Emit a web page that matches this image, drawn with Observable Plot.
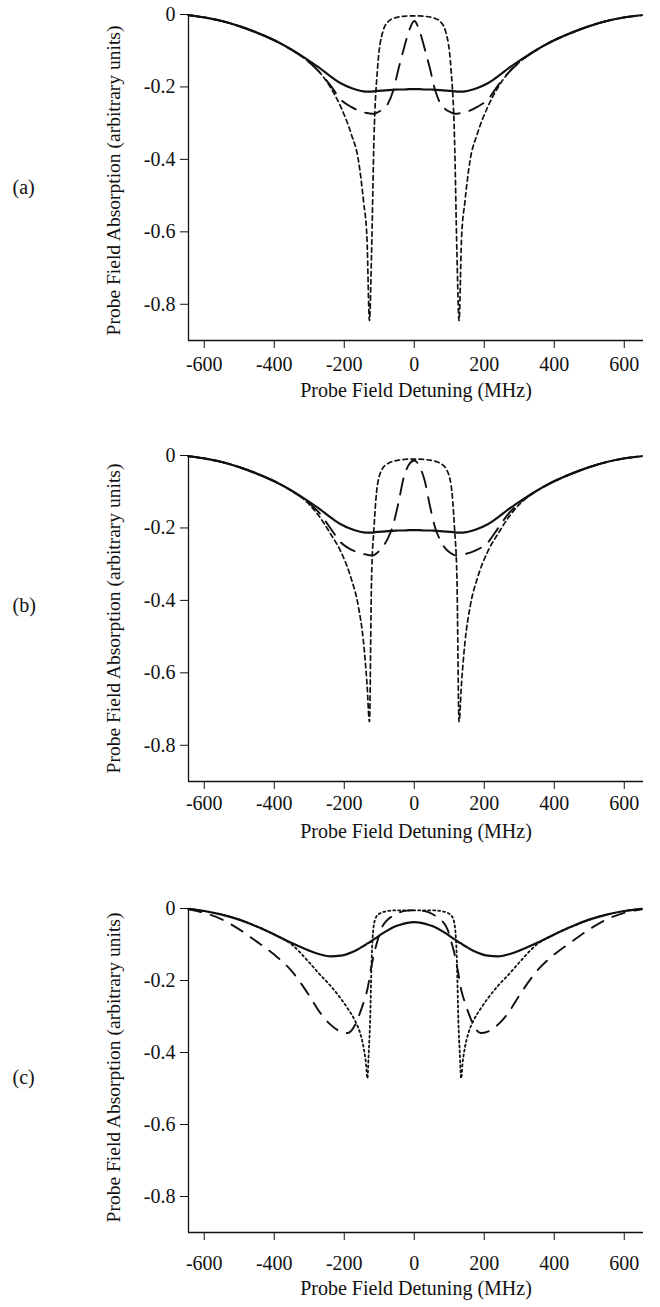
<!DOCTYPE html>
<html><head><meta charset="utf-8">
<script src="https://cdn.jsdelivr.net/npm/d3@7"></script>
<script src="https://cdn.jsdelivr.net/npm/@observablehq/plot@0.6"></script>
<style>
body{margin:0;background:#fff;}
#chart svg{display:block;}
</style>
</head><body><div id="chart"></div>
<script>
// ---- labels ----
const panelLabels = ["(a)", "(b)", "(c)"];
const xTitle = "Probe Field Detuning (MHz)";
const yTitle = "Probe Field Absorption (arbitrary units)";
const xTicks = [-600, -400, -200, 0, 200, 400, 600];
const yTicks = [0, -0.2, -0.4, -0.6, -0.8];

// ---- detuning grids (MHz) ----
const xAB = [-645,-600,-550,-500,-450,-400,-350,-300,-270,-240,-210,-180,-160,-145,-135,-128,-122,-115,-105,-90,-75,-60,-45,-30,-15,0,
  15,30,45,60,75,90,105,115,122,128,135,145,160,180,210,240,270,300,350,400,450,500,550,600,650];
const xC = [-645,-600,-550,-500,-450,-400,-350,-300,-270,-240,-210,-190,-170,-155,-145,-138,-134,-130,-126,-122,-116,-108,-95,-80,-60,-40,-20,0,
  20,40,60,80,95,108,116,122,126,130,134,138,145,155,170,190,210,240,270,300,350,400,450,500,550,600,650];

// ---- panel (a) ----
const aSolid = [-0.002,-0.008,-0.018,-0.032,-0.050,-0.071,-0.097,-0.128,-0.148,-0.170,-0.190,-0.203,-0.209,-0.212,-0.213,-0.213,-0.213,-0.212,-0.211,-0.210,-0.209,-0.208,-0.207,-0.207,-0.206,-0.206,
  -0.206,-0.207,-0.207,-0.208,-0.209,-0.210,-0.211,-0.212,-0.213,-0.213,-0.213,-0.212,-0.209,-0.203,-0.190,-0.170,-0.148,-0.128,-0.097,-0.071,-0.050,-0.032,-0.018,-0.008,-0.002];
const aLong = [-0.002,-0.008,-0.018,-0.032,-0.050,-0.071,-0.098,-0.132,-0.160,-0.195,-0.235,-0.255,-0.265,-0.270,-0.272,-0.273,-0.274,-0.274,-0.270,-0.262,-0.246,-0.210,-0.150,-0.095,-0.045,-0.018,
  -0.045,-0.095,-0.150,-0.210,-0.246,-0.262,-0.270,-0.274,-0.274,-0.273,-0.272,-0.270,-0.265,-0.255,-0.235,-0.195,-0.160,-0.132,-0.098,-0.071,-0.050,-0.032,-0.018,-0.008,-0.002];
const aShort = [-0.002,-0.008,-0.018,-0.032,-0.050,-0.071,-0.098,-0.132,-0.160,-0.200,-0.255,-0.330,-0.400,-0.515,-0.620,-0.845,-0.660,-0.340,-0.150,-0.048,-0.020,-0.011,-0.007,-0.005,-0.004,-0.004,
  -0.004,-0.005,-0.007,-0.011,-0.020,-0.048,-0.150,-0.340,-0.660,-0.845,-0.620,-0.515,-0.400,-0.330,-0.255,-0.200,-0.160,-0.132,-0.098,-0.071,-0.050,-0.032,-0.018,-0.008,-0.002];

// ---- panel (b) ----
const bSolid = [-0.002,-0.008,-0.018,-0.032,-0.050,-0.071,-0.097,-0.128,-0.148,-0.170,-0.190,-0.203,-0.209,-0.212,-0.213,-0.213,-0.213,-0.212,-0.211,-0.210,-0.209,-0.208,-0.207,-0.207,-0.206,-0.206,
  -0.206,-0.207,-0.207,-0.208,-0.209,-0.210,-0.211,-0.212,-0.213,-0.213,-0.213,-0.212,-0.209,-0.203,-0.190,-0.170,-0.148,-0.128,-0.097,-0.071,-0.050,-0.032,-0.018,-0.008,-0.002];
const bLong = [-0.002,-0.008,-0.018,-0.032,-0.050,-0.071,-0.098,-0.132,-0.160,-0.200,-0.240,-0.260,-0.268,-0.272,-0.274,-0.275,-0.276,-0.275,-0.268,-0.252,-0.228,-0.190,-0.130,-0.060,-0.025,-0.014,
  -0.030,-0.070,-0.140,-0.200,-0.235,-0.258,-0.270,-0.275,-0.276,-0.275,-0.274,-0.272,-0.268,-0.260,-0.240,-0.200,-0.160,-0.132,-0.098,-0.071,-0.050,-0.032,-0.018,-0.008,-0.002];
const bShort = [-0.002,-0.008,-0.018,-0.032,-0.050,-0.071,-0.098,-0.135,-0.170,-0.215,-0.265,-0.340,-0.415,-0.515,-0.630,-0.735,-0.340,-0.200,-0.080,-0.035,-0.022,-0.016,-0.013,-0.011,-0.010,-0.010,
  -0.010,-0.011,-0.013,-0.016,-0.022,-0.035,-0.080,-0.200,-0.340,-0.735,-0.630,-0.515,-0.415,-0.340,-0.265,-0.215,-0.170,-0.135,-0.098,-0.071,-0.050,-0.032,-0.018,-0.008,-0.002];

// ---- panel (c) ----
const cSolid = [-0.001,-0.007,-0.017,-0.031,-0.050,-0.072,-0.096,-0.117,-0.127,-0.133,-0.131,-0.126,-0.118,-0.110,-0.104,-0.100,-0.097,-0.095,-0.093,-0.090,-0.086,-0.081,-0.072,-0.063,-0.052,-0.045,-0.040,-0.038,
  -0.040,-0.045,-0.052,-0.063,-0.072,-0.081,-0.086,-0.090,-0.093,-0.095,-0.097,-0.100,-0.104,-0.110,-0.118,-0.126,-0.131,-0.133,-0.127,-0.117,-0.096,-0.072,-0.050,-0.031,-0.017,-0.007,-0.001];
const cLong = [-0.002,-0.012,-0.030,-0.058,-0.092,-0.128,-0.174,-0.242,-0.288,-0.322,-0.342,-0.346,-0.325,-0.290,-0.262,-0.240,-0.225,-0.205,-0.180,-0.160,-0.130,-0.100,-0.058,-0.035,-0.020,-0.010,-0.006,-0.005,
  -0.006,-0.010,-0.020,-0.035,-0.058,-0.100,-0.130,-0.160,-0.180,-0.205,-0.225,-0.240,-0.262,-0.290,-0.325,-0.346,-0.342,-0.322,-0.288,-0.242,-0.174,-0.128,-0.092,-0.058,-0.030,-0.012,-0.002];
const cDot = [-0.001,-0.007,-0.017,-0.031,-0.050,-0.072,-0.100,-0.150,-0.183,-0.214,-0.250,-0.278,-0.310,-0.345,-0.385,-0.430,-0.472,-0.400,-0.310,-0.150,-0.050,-0.022,-0.012,-0.008,-0.005,-0.005,-0.005,-0.005,
  -0.005,-0.005,-0.005,-0.008,-0.012,-0.022,-0.050,-0.150,-0.310,-0.400,-0.472,-0.430,-0.385,-0.345,-0.310,-0.278,-0.250,-0.214,-0.183,-0.150,-0.100,-0.072,-0.050,-0.031,-0.017,-0.007,-0.001];

// ---- drawing ----
const FONT = "'Liberation Serif', 'Times New Roman', serif";
const fmt = d => d === 0 ? "0" : String(d);
const toRows = (xs, ys) => xs.map((x, i) => ({x, y: ys[i]}));

function panel(label, xs, curves, opt) {
  const marks = [
    Plot.ruleX([-645], {stroke: "#111", strokeWidth: 1.3}),
    Plot.ruleY([-0.9], {stroke: "#111", strokeWidth: 1.3}),
    Plot.axisX({ticks: xTicks, tickFormat: fmt, tickSize: 8, tickPadding: opt.xPad, fontSize: 20, label: null, stroke: "#111"}),
    Plot.axisY({ticks: yTicks, tickFormat: fmt, tickSize: 8, tickPadding: 5, fontSize: 20, label: null, stroke: "#111"}),
    Plot.text([xTitle], {frameAnchor: "bottom", textAnchor: "middle", dy: opt.titleDy, fontSize: 20, fill: "#111"}),
    Plot.text([yTitle], {frameAnchor: "left", textAnchor: "middle", rotate: -90, dx: -75, dy: opt.yDy, fontSize: 19.5, fill: "#111"}),
    Plot.text([label], {frameAnchor: "left", textAnchor: "start", dx: -176, dy: opt.labelDy, fontSize: 20, fill: "#111"})
  ];
  for (const c of curves) {
    marks.push(Plot.line(toRows(xs, c.y), {
      x: "x", y: "y", curve: "monotone-x", stroke: "#111",
      strokeWidth: c.w, strokeDasharray: c.dash
    }));
  }
  return Plot.plot({
    width: 660, height: opt.height,
    marginLeft: 188, marginRight: 17, marginTop: 14, marginBottom: opt.mb,
    x: {domain: [-645, 655]},
    y: {domain: [-0.9, 0]},
    style: {fontFamily: FONT, color: "#111", background: "white", overflow: "visible"},
    marks
  });
}

const chart = document.getElementById("chart");
chart.append(panel(panelLabels[0], xAB, [
  {y: aSolid, w: 2.2, dash: null},
  {y: aLong, w: 1.9, dash: "16,10"},
  {y: aShort, w: 1.7, dash: "4.5,3.5"}
], {height: 441, mb: 101, xPad: 8, titleDy: 56, labelDy: 10, yDy: 3}));
chart.append(panel(panelLabels[1], xAB, [
  {y: bSolid, w: 2.2, dash: null},
  {y: bLong, w: 1.9, dash: "16,10"},
  {y: bShort, w: 1.7, dash: "4.5,3.5"}
], {height: 453, mb: 113, xPad: 6, titleDy: 56, labelDy: -13, yDy: 0}));
chart.append(panel(panelLabels[2], xC, [
  {y: cSolid, w: 2.2, dash: null},
  {y: cLong, w: 1.9, dash: "13,10"},
  {y: cDot, w: 1.8, dash: "2,3"}
], {height: 413, mb: 75, xPad: 15, titleDy: 62, labelDy: 7, yDy: -3}));
</script>
</body></html>
